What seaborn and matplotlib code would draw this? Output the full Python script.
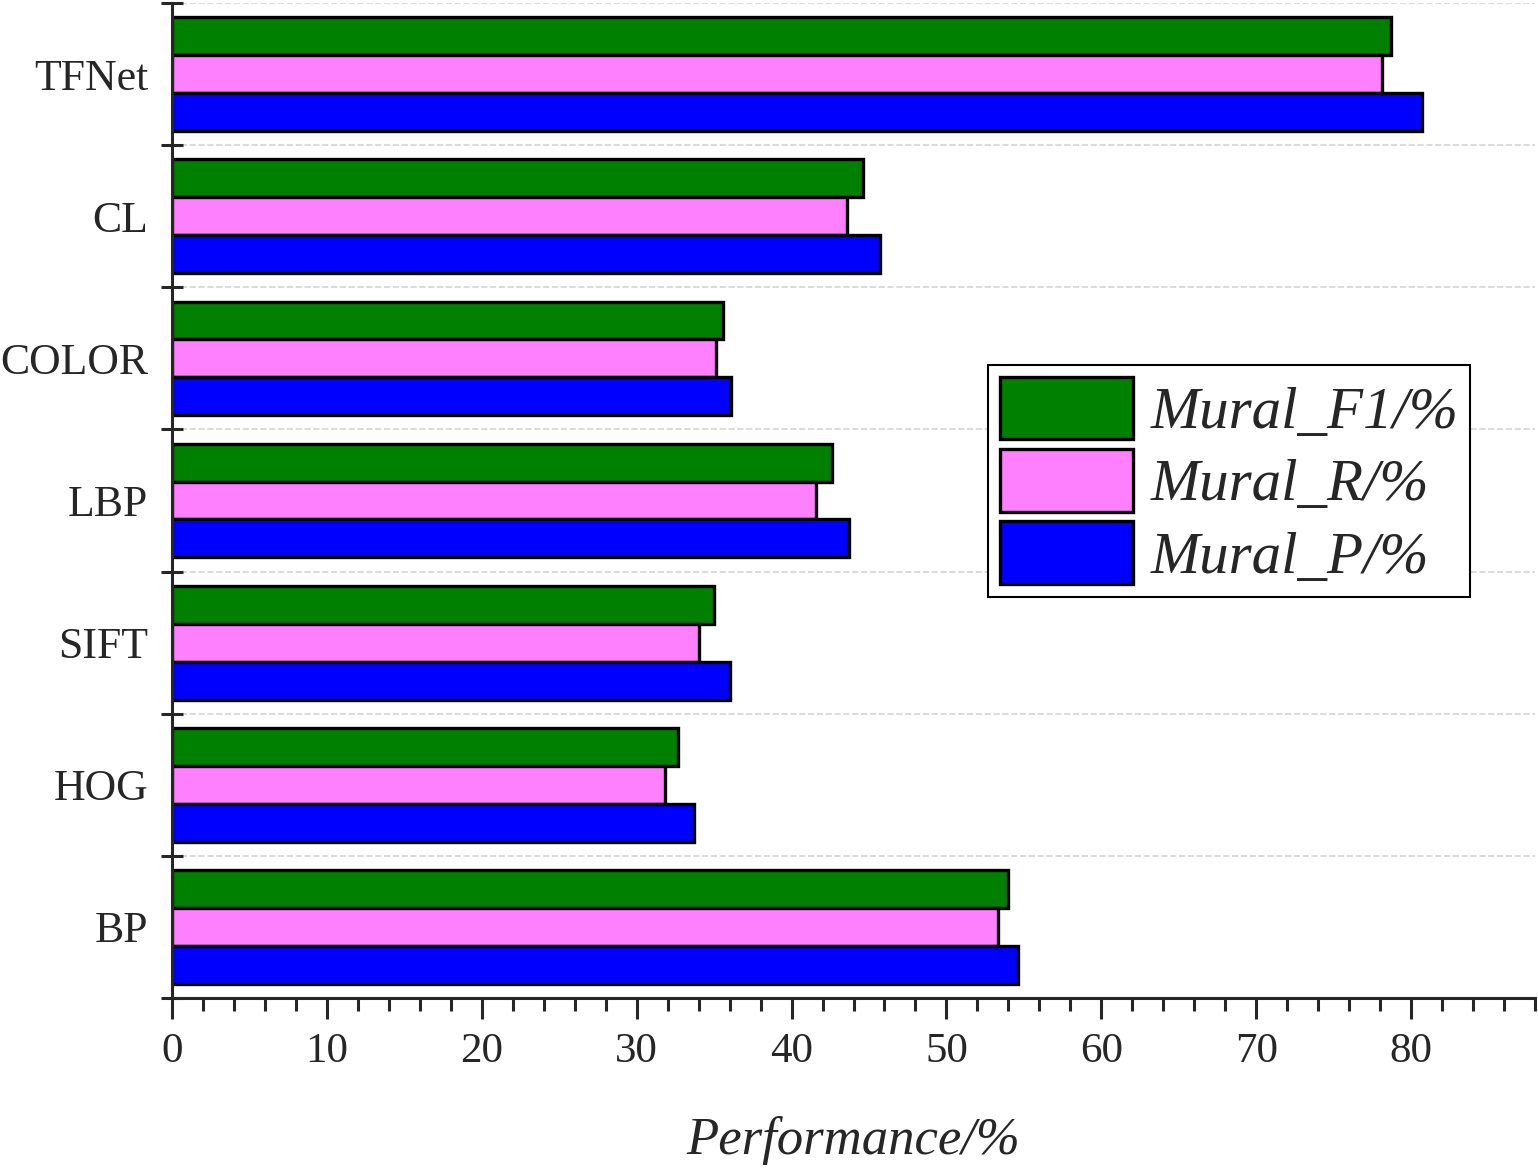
import pandas as pd
import seaborn as sns
import matplotlib.pyplot as plt
from matplotlib.ticker import MultipleLocator, FixedLocator, NullFormatter

methods = ['TFNet', 'CL', 'COLOR', 'LBP', 'SIFT', 'HOG', 'BP']
series = ['Mural_F1/%', 'Mural_R/%', 'Mural_P/%']
f1_vals = [78.7, 44.6, 35.6, 42.6, 35.0, 32.7, 54.0]
r_vals = [78.1, 43.6, 35.1, 41.6, 34.0, 31.8, 53.3]
p_vals = [80.7, 45.7, 36.1, 43.7, 36.0, 33.7, 54.6]
colors = ['#008000', '#ff80ff', '#0000ff']

df = pd.DataFrame({'method': methods * 3,
                   'series': [s for s in series for _ in methods],
                   'value': f1_vals + r_vals + p_vals})

sns.set_style('ticks')
plt.rcParams['font.family'] = ['Liberation Serif', 'DejaVu Serif']
plt.rcParams['axes.linewidth'] = 2.2

fig = plt.figure(figsize=(15.38, 11.68), dpi=100)
ax = fig.add_axes([172 / 1538, 1 - 998 / 1168, (1535 - 172) / 1538, (998 - 3) / 1168])

sns.barplot(data=df, x='value', y='method', hue='series', order=methods,
            hue_order=series, palette=colors, orient='h', errorbar=None,
            edgecolor='black', linewidth=2.4, saturation=1, ax=ax)

ax.set_xlim(0, 88)
ax.set_ylim(len(methods) - 0.5, -0.5)
sns.despine(ax=ax)

# x axis ticks
ax.xaxis.set_major_locator(MultipleLocator(10))
ax.xaxis.set_minor_locator(MultipleLocator(2))
ax.tick_params(axis='x', which='major', direction='out', length=15, width=2.2,
               labelsize=31, pad=10)
ax.tick_params(axis='x', which='minor', direction='out', length=9, width=2.2)

# y axis: boundary ticks + category labels in between
bounds = [i - 0.5 for i in range(len(methods) + 1)]
ax.yaxis.set_major_locator(FixedLocator(bounds))
ax.yaxis.set_major_formatter(NullFormatter())
ax.yaxis.set_minor_locator(FixedLocator(range(len(methods))))
ax.set_yticklabels(methods, minor=True)
ax.tick_params(axis='y', which='major', direction='inout', length=16, width=2.2)
ax.tick_params(axis='y', which='minor', length=0, labelsize=31.5, pad=17)
ax.grid(axis='y', which='major', linestyle='--', color='#d4d4d4', linewidth=1.2)
ax.set_axisbelow(True)

ax.set_ylabel('')
ax.set_xlabel('Performance/%', fontsize=38, style='italic', labelpad=32)

ax.legend_.remove()
handles, labels = ax.get_legend_handles_labels()
leg = fig.legend(handles, labels, loc='upper left',
                 bbox_to_anchor=(988 / 1538, 1 - 365 / 1168),
                 prop={'size': 42.5, 'style': 'italic'}, frameon=True,
                 fancybox=False, edgecolor='black', framealpha=1,
                 handlelength=2.25, handleheight=1.25, labelspacing=0.14,
                 handletextpad=0.3, borderpad=0.2, borderaxespad=0)
leg.get_frame().set_linewidth(1.5)

fig.savefig('out.png', dpi=100)
